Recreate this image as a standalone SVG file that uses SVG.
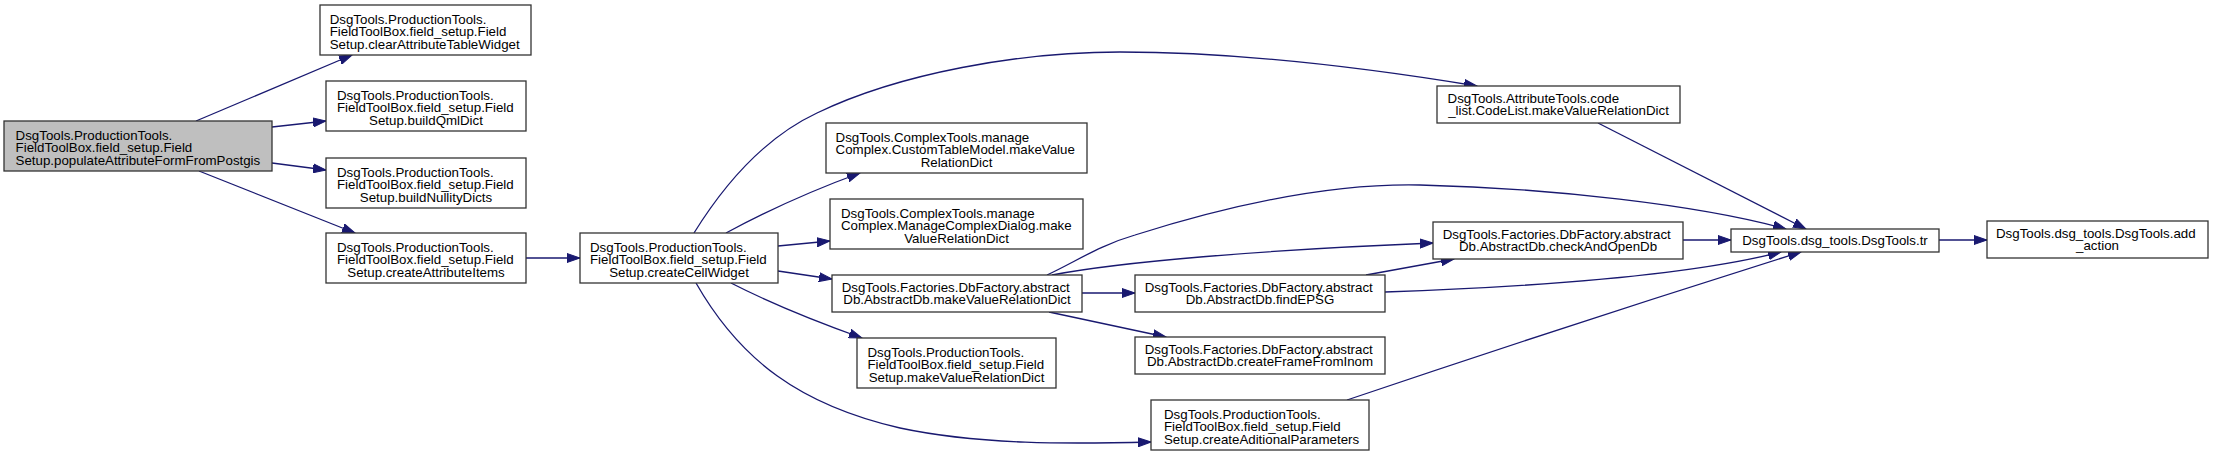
<svg xmlns="http://www.w3.org/2000/svg" width="2214" height="457" viewBox="0 0 2214 457">
<style>
.n rect{fill:#fff;stroke:#333;stroke-width:1.3}
.n.g rect{fill:#bfbfbf}
.n text{font-family:"Liberation Sans",Arial,Helvetica,sans-serif;font-size:13.3px;fill:#000}
.c{text-anchor:middle}
#edges path{fill:none;stroke:#191970;stroke-width:1.3;marker-end:url(#ah)}
</style>
<defs>
<marker id="ah" markerUnits="userSpaceOnUse" markerWidth="14" markerHeight="10" refX="13" refY="5" orient="auto" viewBox="0 0 14 10">
<path d="M0,0.5 L13,5 L0,9.5 z" fill="#191970" stroke="#191970" stroke-width="1"/>
</marker>
</defs>
<rect width="2214" height="457" fill="#fff"/>
<g id="edges">
<path d="M196,121 L352,55"/>
<path d="M272,127 L326,121"/>
<path d="M272,163 L326,170"/>
<path d="M199,171 L355,233"/>
<path d="M526,258 L580,258"/>
<path d="M694,233 C730,175 770,135 817,113 C900,73 1020,52 1120,52 C1250,52 1380,70 1477,86"/>
<path d="M726,233 C765,212 805,193 860,173"/>
<path d="M778,246 L830,241"/>
<path d="M778,271 L832,279"/>
<path d="M731,283 C770,303 820,323 862,338"/>
<path d="M696,283 C740,360 800,405 900,428 C980,445 1070,444 1151,442"/>
<path d="M1047,275 C1075,262 1100,245 1135,235 C1230,205 1330,183 1420,185 C1550,188 1700,205 1786,229"/>
<path d="M1052,275 C1120,262 1260,250 1433,243"/>
<path d="M1082,293 L1135,293"/>
<path d="M1049,312 L1166,337"/>
<path d="M1366,275 L1454,259"/>
<path d="M1385,292 C1500,288 1680,278 1781,252"/>
<path d="M1598,123 L1806,229"/>
<path d="M1347,400 C1480,355 1680,290 1801,252"/>
<path d="M1683,240 L1731,240"/>
<path d="M1939,240 L1987,240"/>
</g>
<g id="populate" class="n g"><rect x="4" y="121" width="268" height="50"/>
<text x="15.6" y="139.5">DsgTools.ProductionTools.</text><text x="15.6" y="152.2">FieldToolBox.field_setup.Field</text><text x="15.6" y="164.9">Setup.populateAttributeFormFromPostgis</text></g>
<g id="clear" class="n"><rect x="320" y="5" width="211" height="50"/>
<text x="329.7" y="23.5">DsgTools.ProductionTools.</text><text x="329.7" y="36.2">FieldToolBox.field_setup.Field</text><text x="329.7" y="48.9">Setup.clearAttributeTableWidget</text></g>
<g id="buildQml" class="n"><rect x="326" y="81" width="200" height="50"/>
<text x="337" y="99.5">DsgTools.ProductionTools.</text><text x="337" y="112.2">FieldToolBox.field_setup.Field</text><text class="c" x="426" y="124.9">Setup.buildQmlDict</text></g>
<g id="buildNullity" class="n"><rect x="326" y="158" width="200" height="50"/>
<text x="337" y="176.5">DsgTools.ProductionTools.</text><text x="337" y="189.2">FieldToolBox.field_setup.Field</text><text class="c" x="426" y="201.9">Setup.buildNullityDicts</text></g>
<g id="createAttributeItems" class="n"><rect x="326" y="233" width="200" height="50"/>
<text x="337" y="251.5">DsgTools.ProductionTools.</text><text x="337" y="264.2">FieldToolBox.field_setup.Field</text><text class="c" x="426" y="276.9">Setup.createAttributeItems</text></g>
<g id="createCellWidget" class="n"><rect x="580" y="233" width="198" height="50"/>
<text x="590" y="251.5">DsgTools.ProductionTools.</text><text x="590" y="264.2">FieldToolBox.field_setup.Field</text><text class="c" x="679" y="276.9">Setup.createCellWidget</text></g>
<g id="customTableModel" class="n"><rect x="826" y="123" width="261" height="50"/>
<text x="835.6" y="141.5">DsgTools.ComplexTools.manage</text><text x="835.6" y="154.2">Complex.CustomTableModel.makeValue</text><text class="c" x="956.5" y="166.9">RelationDict</text></g>
<g id="manageComplexDialog" class="n"><rect x="830" y="199" width="253" height="50"/>
<text x="841" y="217.5">DsgTools.ComplexTools.manage</text><text x="841" y="230.2">Complex.ManageComplexDialog.make</text><text class="c" x="956.5" y="242.9">ValueRelationDict</text></g>
<g id="abstractDbMakeValueRelationDict" class="n"><rect x="832" y="275" width="250" height="37"/>
<text x="841.7" y="291.5">DsgTools.Factories.DbFactory.abstract</text><text class="c" x="957" y="304.2">Db.AbstractDb.makeValueRelationDict</text></g>
<g id="fieldSetupMakeValueRelationDict" class="n"><rect x="857" y="338" width="199" height="50"/>
<text x="867.5" y="356.5">DsgTools.ProductionTools.</text><text x="867.5" y="369.2">FieldToolBox.field_setup.Field</text><text class="c" x="956.5" y="381.9">Setup.makeValueRelationDict</text></g>
<g id="codeList" class="n"><rect x="1437" y="86" width="243" height="37"/>
<text x="1447.6" y="102.5">DsgTools.AttributeTools.code</text><text class="c" x="1558.5" y="115.2">_list.CodeList.makeValueRelationDict</text></g>
<g id="checkAndOpenDb" class="n"><rect x="1433" y="222" width="250" height="37"/>
<text x="1442.7" y="238.5">DsgTools.Factories.DbFactory.abstract</text><text class="c" x="1558" y="251.2">Db.AbstractDb.checkAndOpenDb</text></g>
<g id="findEPSG" class="n"><rect x="1135" y="275" width="250" height="37"/>
<text x="1144.7" y="291.5">DsgTools.Factories.DbFactory.abstract</text><text class="c" x="1260" y="304.2">Db.AbstractDb.findEPSG</text></g>
<g id="createFrameFromInom" class="n"><rect x="1135" y="337" width="250" height="37"/>
<text x="1144.7" y="353.5">DsgTools.Factories.DbFactory.abstract</text><text class="c" x="1260" y="366.2">Db.AbstractDb.createFrameFromInom</text></g>
<g id="createAditionalParameters" class="n"><rect x="1151" y="400" width="218" height="50"/>
<text x="1164" y="418.5">DsgTools.ProductionTools.</text><text x="1164" y="431.2">FieldToolBox.field_setup.Field</text><text x="1164" y="443.9">Setup.createAditionalParameters</text></g>
<g id="tr" class="n"><rect x="1731" y="229" width="208" height="23"/>
<text class="c" x="1835" y="245">DsgTools.dsg_tools.DsgTools.tr</text></g>
<g id="addAction" class="n"><rect x="1987" y="221" width="221" height="37"/>
<text x="1996" y="237.5">DsgTools.dsg_tools.DsgTools.add</text><text class="c" x="2097.5" y="250.2">_action</text></g>
</svg>
